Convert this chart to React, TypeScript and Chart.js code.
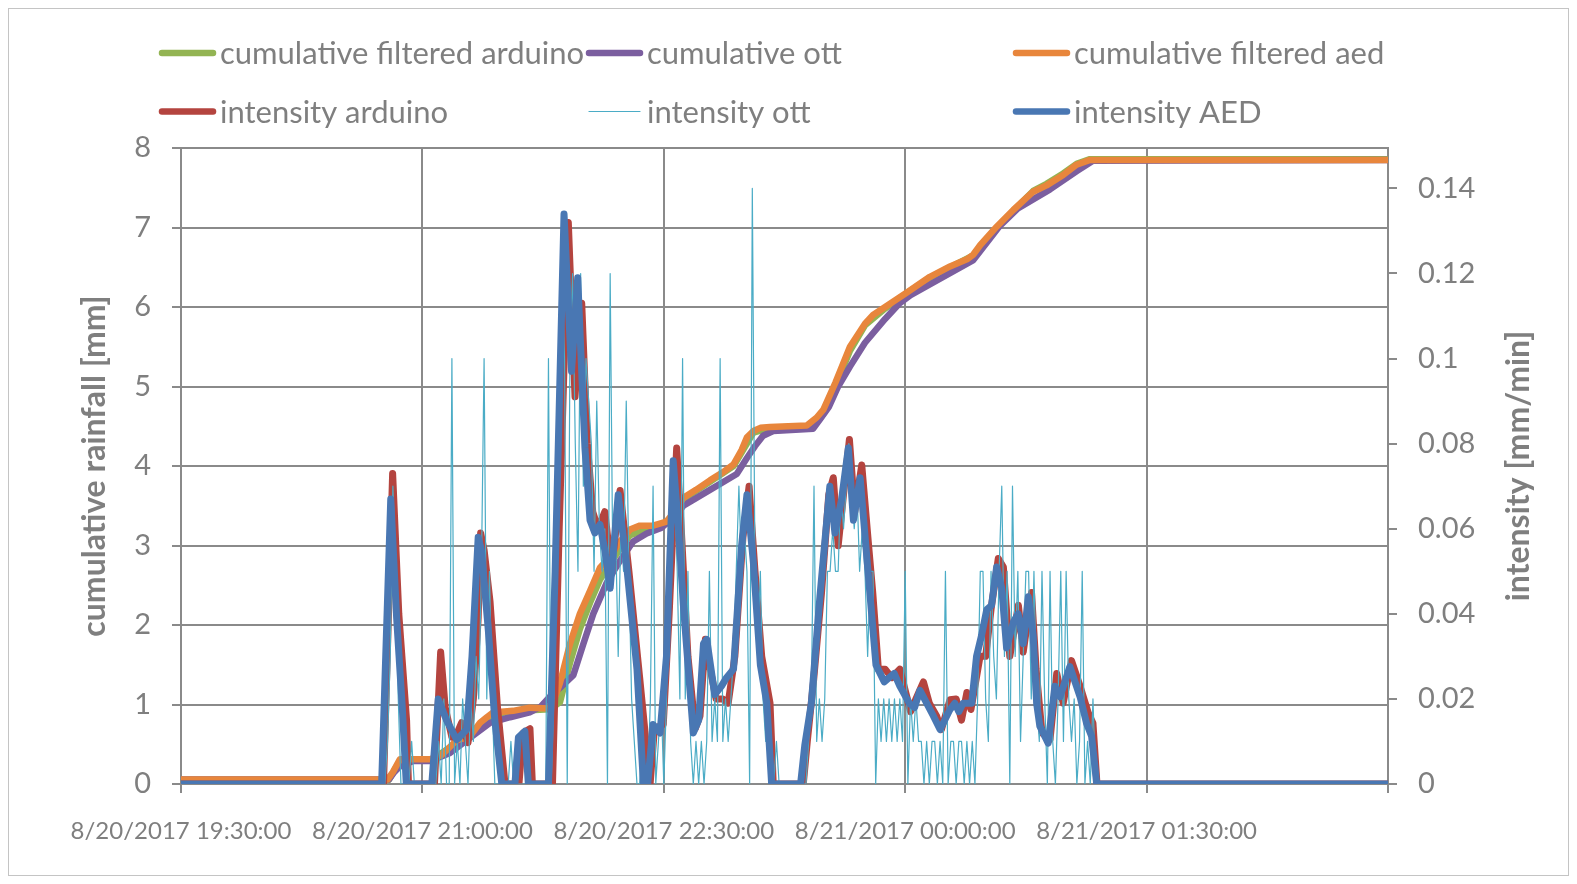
import React, { useEffect, useRef } from "react";
import { Chart, registerables } from "chart.js";
Chart.register(...registerables);

// ---- time axis: minutes since 8/20/2017 19:30:00 ----
const xTickMinutes = [0, 90, 180, 270, 360, 450];
const leftTicks = [0, 1, 2, 3, 4, 5, 6, 7, 8];
const rightTicks = [0, 0.02, 0.04, 0.06, 0.08, 0.1, 0.12, 0.14];

const seriesLabels = [
  "cumulative filtered arduino",
  "cumulative ott",
  "cumulative filtered aed",
  "intensity arduino",
  "intensity ott",
  "intensity AED",
];

// cumulative filtered arduino [mm]
const cumArduinoTime = [0, 77.5, 80, 82, 93, 103, 108, 112, 116.3, 126, 137.6, 141.3, 145, 148.7, 152.5, 156.2, 160, 163.7, 167.4, 171.1, 176, 181, 184.8, 187.3, 197.2, 206, 209, 213.4, 219.6, 233.3, 237, 240, 244, 249.4, 255, 262.5, 270.5, 279.2, 295.4, 304.1, 310.3, 317.7, 322.7, 328.9, 333.9, 338.9, 450];
const cumArduinoValue = [0.05, 0.05, 0.2, 0.3, 0.3, 0.52, 0.6, 0.76, 0.88, 0.92, 0.94, 1.03, 1.52, 1.95, 2.28, 2.57, 2.77, 2.96, 3.13, 3.17, 3.22, 3.28, 3.44, 3.58, 3.8, 4.0, 4.17, 4.42, 4.48, 4.5, 4.55, 4.68, 5.0, 5.45, 5.77, 5.98, 6.17, 6.37, 6.65, 7.0, 7.21, 7.46, 7.55, 7.68, 7.8, 7.86, 7.86];

// cumulative ott [mm]
const cumOttTime = [0, 77.5, 79.5, 81.6, 86.6, 93, 100.3, 107.7, 115.2, 122.7, 130, 134, 137.6, 141, 146.3, 150, 153.7, 158.7, 163.7, 168.6, 173.6, 179, 184.8, 187.3, 197.2, 207.2, 211, 214, 217, 220.8, 235.7, 238.5, 241.5, 245, 249.4, 255, 262.5, 268, 272, 279, 295.4, 305, 312, 324, 334, 340, 450];
const cumOttValue = [0.057, 0.057, 0.15, 0.22, 0.29, 0.29, 0.39, 0.58, 0.77, 0.84, 0.9, 0.97, 1.1, 1.2, 1.37, 1.76, 2.14, 2.53, 2.81, 3.05, 3.15, 3.22, 3.39, 3.5, 3.7, 3.9, 4.1, 4.25, 4.38, 4.44, 4.47, 4.6, 4.74, 5.0, 5.25, 5.55, 5.85, 6.05, 6.15, 6.28, 6.59, 7.01, 7.24, 7.48, 7.71, 7.84, 7.85];

// cumulative filtered aed [mm]
const cumAedTime = [0, 77, 79, 81.6, 92.8, 97, 102.8, 107.7, 111.5, 114, 116.3, 123.8, 130, 137.2, 138.5, 141.3, 145, 148.7, 152.5, 156.2, 160, 163.7, 167.4, 171.1, 176, 181, 184.8, 187.3, 192, 197.2, 202, 206, 209, 211, 213.4, 216, 219.6, 233.3, 237, 239.5, 244, 249.4, 255, 258, 262.5, 270.5, 279.2, 286.7, 293, 295.4, 298, 304.1, 310.3, 317.7, 322.7, 328.9, 333.9, 338.9, 450];
const cumAedValue = [0.057, 0.057, 0.15, 0.31, 0.31, 0.36, 0.55, 0.6, 0.77, 0.84, 0.9, 0.92, 0.96, 0.95, 1.0, 1.27, 1.76, 2.14, 2.43, 2.72, 2.86, 3.05, 3.2, 3.25, 3.25, 3.3, 3.46, 3.6, 3.7, 3.82, 3.92, 4.02, 4.2, 4.36, 4.44, 4.48, 4.49, 4.51, 4.61, 4.71, 5.05, 5.5, 5.79, 5.9, 6.0, 6.18, 6.38, 6.51, 6.6, 6.66, 6.78, 7.01, 7.22, 7.45, 7.53, 7.66, 7.79, 7.85, 7.85];

// intensity arduino [mm/min]
const intArduinoTime = [0, 75.5, 78.9, 81.2, 84.1, 84.8, 94.5, 96.8, 98.5, 101, 103, 104.6, 107, 109, 110.8, 111.7, 113, 115.2, 118, 120.8, 126, 127.5, 130.1, 131, 138.5, 141, 144.4, 146.9, 149.4, 151.5, 153.5, 155.5, 158, 160.5, 163.7, 167, 171, 174.9, 176.5, 179.8, 182, 184.8, 186.5, 189, 191.7, 193.5, 195.5, 197, 199.5, 202, 204, 206.5, 209.5, 211.8, 214, 216.5, 219.6, 220.8, 232, 233.5, 235.8, 238.8, 241.5, 243.2, 245, 247, 249.2, 251.2, 253.8, 256.5, 257.9, 260, 262.5, 265, 268, 270, 272, 274, 276.8, 279, 281.7, 283.5, 286.7, 289, 291, 293, 294.5, 297.9, 300, 302, 304.7, 306.6, 309, 312.2, 314, 317.1, 318.8, 321, 324, 326.5, 328.9, 332, 335.2, 338.2, 340, 341.5, 450];
const intArduinoValue = [0, 0, 0.073, 0.04, 0.015, 0, 0, 0.031, 0.018, 0.011, 0.012, 0.0144, 0.0097, 0.02, 0.039, 0.059, 0.055, 0.043, 0.018, 0, 0, 0.012, 0.013, 0, 0, 0.06, 0.132, 0.091, 0.113, 0.08, 0.064, 0.06, 0.064, 0.05, 0.069, 0.05, 0.025, 0, 0.013, 0.014, 0.04, 0.079, 0.06, 0.03, 0.013, 0.016, 0.034, 0.028, 0.02, 0.02, 0.019, 0.03, 0.058, 0.07, 0.05, 0.03, 0.019, 0, 0, 0.01, 0.024, 0.045, 0.068, 0.072, 0.056, 0.068, 0.081, 0.064, 0.075, 0.055, 0.045, 0.027, 0.027, 0.025, 0.027, 0.022, 0.017, 0.02, 0.024, 0.019, 0.016, 0.0128, 0.0198, 0.02, 0.015, 0.0215, 0.0175, 0.03, 0.03, 0.041, 0.053, 0.051, 0.03, 0.042, 0.031, 0.045, 0.027, 0.012, 0.0105, 0.026, 0.019, 0.029, 0.023, 0.0168, 0.0143, 0, 0];

// intensity ott [mm/min]
const intOttTime = [0, 76, 77, 78, 79, 80, 81, 82, 85, 86, 87, 95, 96, 97, 98, 99, 100, 101, 102, 103, 104, 105, 106, 107, 108, 109, 110, 111, 112, 113, 114, 115, 116, 117, 122, 123, 124, 136, 137, 138, 139, 140, 141, 142, 143, 144, 145, 146, 147, 148, 149, 150, 151, 152, 153, 154, 155, 156, 157, 158, 159, 160, 161, 162, 163, 164, 165, 166, 167, 168, 169, 170, 171, 172, 173, 174, 175, 176, 177, 178, 179, 180, 181, 182, 183, 184, 185, 186, 187, 188, 189, 190, 191, 192, 193, 194, 195, 196, 197, 198, 199, 200, 201, 202, 203, 204, 205, 206, 207, 208, 209, 210, 211, 212, 213, 214, 215, 216, 217, 218, 219, 220, 221, 222, 223, 233, 234, 235, 236, 237, 238, 239, 240, 241, 242, 243, 244, 245, 246, 247, 248, 249, 250, 251, 252, 253, 254, 255, 256, 257, 258, 259, 260, 261, 262, 263, 264, 265, 266, 267, 268, 269, 270, 271, 272, 273, 274, 275, 276, 277, 278, 279, 280, 281, 282, 283, 284, 285, 286, 287, 288, 289, 290, 291, 292, 293, 294, 295, 296, 297, 298, 299, 300, 301, 302, 303, 304, 305, 306, 307, 308, 309, 310, 311, 312, 313, 314, 315, 316, 317, 318, 319, 320, 321, 322, 323, 324, 325, 326, 327, 328, 329, 330, 331, 332, 333, 334, 335, 336, 337, 338, 339, 340, 341, 450];
const intOttValue = [0, 0, 0.01, 0.03, 0.07, 0.05, 0.02, 0, 0, 0.01, 0, 0, 0.01, 0, 0.02, 0, 0, 0.1, 0, 0.01, 0, 0.02, 0.01, 0, 0.02, 0.01, 0.03, 0.02, 0.05, 0.1, 0.02, 0.05, 0.02, 0, 0, 0.01, 0, 0, 0.1, 0, 0.02, 0.05, 0.1, 0.12, 0.1, 0, 0.1, 0.12, 0.08, 0.05, 0.12, 0.07, 0.1, 0.09, 0.08, 0.05, 0.09, 0.06, 0.05, 0.06, 0, 0.12, 0.05, 0.06, 0.03, 0.06, 0.05, 0.09, 0.05, 0.02, 0.01, 0, 0, 0.01, 0, 0, 0.02, 0.07, 0, 0.01, 0.02, 0, 0.02, 0.05, 0.06, 0.07, 0.05, 0.02, 0.1, 0.02, 0.05, 0.01, 0, 0.01, 0, 0.01, 0, 0.01, 0.05, 0.01, 0.02, 0.01, 0.1, 0.01, 0.02, 0.01, 0.02, 0.03, 0.05, 0.07, 0.05, 0.06, 0.05, 0, 0.14, 0.05, 0.03, 0.05, 0.02, 0.01, 0.02, 0, 0, 0.01, 0, 0, 0.01, 0.02, 0.07, 0.01, 0.02, 0.01, 0.02, 0.05, 0.05, 0.06, 0.05, 0.05, 0.07, 0.06, 0.07, 0.08, 0.07, 0.06, 0.07, 0.05, 0.06, 0.05, 0.03, 0.05, 0.05, 0, 0.02, 0.01, 0.02, 0.01, 0.02, 0.01, 0.02, 0.01, 0.02, 0.01, 0.05, 0, 0.02, 0.01, 0.02, 0.01, 0.01, 0, 0.01, 0, 0.01, 0.01, 0, 0.01, 0, 0.05, 0, 0.01, 0.01, 0, 0.01, 0.01, 0, 0.01, 0, 0.01, 0, 0.02, 0.05, 0.05, 0.02, 0.01, 0.05, 0.03, 0.02, 0.05, 0.07, 0.03, 0.05, 0, 0.07, 0.03, 0.05, 0.01, 0.03, 0.05, 0.05, 0.02, 0.05, 0.02, 0.01, 0.05, 0.02, 0, 0.05, 0.01, 0, 0.02, 0.05, 0.01, 0.05, 0.02, 0.01, 0.02, 0, 0.01, 0.05, 0, 0.01, 0, 0.02, 0, 0];

// intensity AED [mm/min]
const intAedTime = [0, 74.8, 78.2, 80.4, 82.5, 84, 93.5, 95.9, 99, 102.8, 106.5, 108.5, 110.8, 112, 114.6, 117, 119.6, 124.5, 125.8, 128.2, 129.5, 137, 139.5, 142.8, 145.6, 147.9, 150.6, 152.5, 154.3, 156.2, 158, 160, 163, 166.2, 170, 172.4, 174, 176, 178.6, 181, 183.5, 185.5, 187.3, 191, 193, 194.8, 196, 199, 201.5, 203.4, 206, 209, 211, 213.4, 216, 218.4, 220.2, 231, 232.6, 235, 238.2, 241.9, 243.8, 246.3, 248.8, 250.7, 253.2, 256, 259.1, 262.2, 265.9, 268, 271.5, 273.5, 275.5, 280.5, 283, 286.7, 288.5, 290, 291.6, 294.8, 296.6, 298.5, 300.4, 302.2, 304.1, 306, 307.8, 310.3, 312.1, 314, 315.9, 317.7, 319, 320.2, 323.3, 325.8, 327.7, 331.4, 335.2, 337.6, 339.5, 341.4, 450];
const intAedValue = [0, 0, 0.067, 0.039, 0.018, 0, 0, 0.02, 0.015, 0.0104, 0.0128, 0.03, 0.058, 0.055, 0.036, 0.015, 0, 0, 0.011, 0.0124, 0, 0, 0.05, 0.134, 0.097, 0.119, 0.079, 0.062, 0.059, 0.061, 0.055, 0.046, 0.068, 0.051, 0.027, 0, 0, 0.014, 0.012, 0.03, 0.076, 0.06, 0.042, 0.012, 0.015, 0.033, 0.034, 0.021, 0.023, 0.025, 0.027, 0.056, 0.068, 0.052, 0.028, 0.019, 0, 0, 0.0093, 0.019, 0.044, 0.07, 0.059, 0.067, 0.079, 0.062, 0.072, 0.051, 0.028, 0.024, 0.026, 0.023, 0.019, 0.018, 0.022, 0.016, 0.0128, 0.0175, 0.019, 0.017, 0.019, 0.019, 0.03, 0.035, 0.041, 0.042, 0.051, 0.046, 0.032, 0.038, 0.04, 0.033, 0.044, 0.035, 0.019, 0.0136, 0.0096, 0.023, 0.0205, 0.0276, 0.0205, 0.0143, 0.0112, 0, 0];

const seriesColors = ["#93b453", "#7b5e9f", "#e8863c", "#b4443f", "#4bacc6", "#4977b3"];
const seriesWidths = [6.5, 6.5, 6.5, 7, 1.2, 7];
const seriesAxes = ["y", "y", "y", "y1", "y1", "y1"];
const seriesOrder = [5, 4, 3, 2, 1, 0];

const TEXT = "#7f7f7f";
const GRID = "#8a8a8a";
const FONT = "Lato, 'DejaVu Sans', sans-serif";

function zip(t: number[], v: number[]) {
  return t.map((x, i) => ({ x, y: v[i] }));
}

function timeLabel(m: number) {
  const total = 19 * 60 + 30 + m;
  const day = 20 + Math.floor(total / 1440);
  const rem = total % 1440;
  const hh = String(Math.floor(rem / 60)).padStart(2, "0");
  const mm = String(rem % 60).padStart(2, "0");
  return `8/${day}/2017 ${hh}:${mm}:00`;
}

const legendPlugin = {
  id: "gridLegend",
  afterDraw(chart: any) {
    const { ctx, chartArea } = chart;
    ctx.save();
    ctx.font = `31px ${FONT}`;
    ctx.textBaseline = "middle";
    chart.data.datasets.forEach((d: any, i: number) => {
      const col = i % 3;
      const row = Math.floor(i / 3);
      const x = chartArea.left - 22 + col * 427;
      const y = row === 0 ? 44 : 102.5;
      ctx.strokeStyle = d.borderColor;
      ctx.lineWidth = Math.min(d.borderWidth, 6.5);
      ctx.lineCap = "round";
      ctx.beginPath();
      ctx.moveTo(x + 3, y);
      ctx.lineTo(x + 54, y);
      ctx.stroke();
      ctx.fillStyle = TEXT;
      ctx.fillText(d.label, x + 61, y + 1);
    });
    ctx.restore();
  },
};

const titlePlugin = {
  id: "axisTitles",
  afterDraw(chart: any) {
    const { ctx, chartArea } = chart;
    const midY = (chartArea.top + chartArea.bottom) / 2;
    ctx.save();
    ctx.font = `bold 32px ${FONT}`;
    ctx.fillStyle = TEXT;
    ctx.textAlign = "center";
    ctx.textBaseline = "middle";
    const draw = (text: string, x: number) => {
      ctx.save();
      ctx.translate(x, midY);
      ctx.rotate(-Math.PI / 2);
      ctx.fillText(text, 0, 0);
      ctx.restore();
    };
    draw("cumulative rainfall [mm]", chartArea.left - 86);
    draw("intensity [mm/min]", chartArea.right + 131);
    ctx.restore();
  },
};

export default function App() {
  const ref = useRef<HTMLCanvasElement | null>(null);
  useEffect(() => {
    if (!ref.current) return;
    const times = [cumArduinoTime, cumOttTime, cumAedTime, intArduinoTime, intOttTime, intAedTime];
    const values = [cumArduinoValue, cumOttValue, cumAedValue, intArduinoValue, intOttValue, intAedValue];
    const chart = new Chart(ref.current, {
      type: "line",
      data: {
        datasets: seriesLabels.map((label, i) => ({
          label,
          data: zip(times[i], values[i]),
          borderColor: seriesColors[i],
          backgroundColor: seriesColors[i],
          borderWidth: seriesWidths[i],
          yAxisID: seriesAxes[i],
          order: seriesOrder[i],
          pointRadius: 0,
          tension: 0,
          borderJoinStyle: "round",
          borderCapStyle: "round",
          fill: false,
        })),
      },
      options: {
        responsive: false,
        animation: false,
        layout: { padding: { top: 139, left: 0, right: 0, bottom: 0 } },
        plugins: { legend: { display: false }, tooltip: { enabled: false } },
        scales: {
          x: {
            type: "linear",
            min: 0,
            max: 450,
            afterBuildTicks: (s: any) => { s.ticks = xTickMinutes.map((v) => ({ value: v })); },
            afterFit: (s: any) => { s.height = 91; },
            ticks: {
              callback: (v: any) => (v >= 450 ? "" : timeLabel(Number(v))),
              font: { family: FONT, size: 24 },
              color: TEXT,
              maxRotation: 0,
              autoSkip: false,
              padding: 24,
            },
            grid: { color: GRID, lineWidth: 2, tickLength: 9 },
            border: { display: true, color: GRID, width: 2 },
          },
          y: {
            position: "left",
            min: 0,
            max: 8,
            afterBuildTicks: (s: any) => { s.ticks = leftTicks.map((v) => ({ value: v })); },
            afterFit: (s: any) => { s.width = 172; },
            ticks: { font: { family: FONT, size: 29 }, color: TEXT, padding: 21 },
            grid: { color: GRID, lineWidth: 2, tickLength: 9 },
            border: { display: true, color: GRID, width: 2 },
          },
          y1: {
            position: "right",
            min: 0,
            max: 0.1495,
            afterBuildTicks: (s: any) => { s.ticks = rightTicks.map((v) => ({ value: v })); },
            afterFit: (s: any) => { s.width = 180; },
            ticks: {
              font: { family: FONT, size: 29 },
              color: TEXT,
              padding: 21,
              callback: (v: any) => String(Math.round(Number(v) * 100) / 100),
            },
            grid: { drawOnChartArea: false, color: GRID, lineWidth: 2, tickLength: 9 },
            border: { display: true, color: GRID, width: 2 },
          },
        },
      } as any,
      plugins: [legendPlugin, titlePlugin],
    });
    return () => chart.destroy();
  }, []);

  return (
    <div style={{ width: 1559, height: 866, border: "1px solid #c4c4c4", background: "#fff" }}>
      <canvas ref={ref} width={1559} height={866} style={{ display: "block" }} />
    </div>
  );
}
